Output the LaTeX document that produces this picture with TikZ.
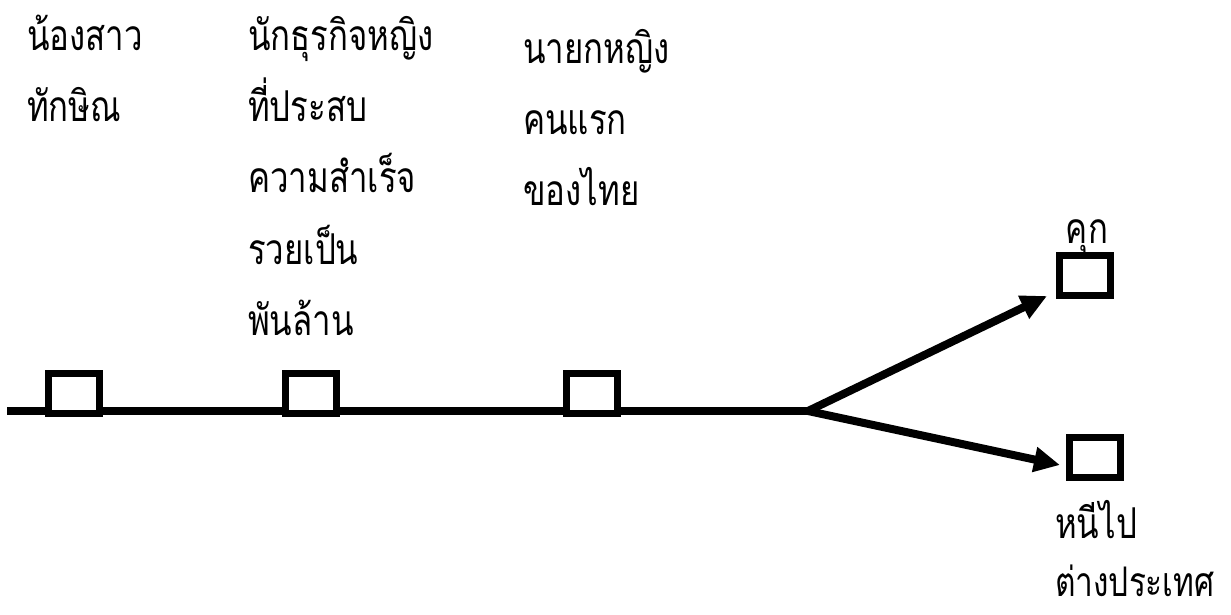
\documentclass[tikz,border=0pt]{standalone}
\usepackage{fontspec}
\usepackage{graphicx}
\newfontfamily\thaifont[Script=Thai]{Loma}
\newcommand{\tallthai}[1]{\scalebox{0.97}[1.25]{#1}}
\usetikzlibrary{arrows.meta}
\begin{document}
\begin{tikzpicture}[x=1pt,y=-1pt,
  stagebox/.style={draw=black,line width=7pt,minimum width=51pt,minimum height=40pt,inner sep=0pt,fill=white},
  lbl/.style={font=\thaifont\fontsize{34}{40}\selectfont,anchor=base west,inner sep=0pt},
  mainline/.style={line width=8pt},
  branch/.style={line width=8pt,-{Triangle[length=26pt,width=24pt]}}]
\useasboundingbox (0,0) rectangle (1231,614);
\coordinate (start) at (7,411);
\coordinate (br) at (808,411);
\coordinate (tipA) at (1047,296);
\coordinate (tipB) at (1060,465);
\draw[mainline] (start) -- (br);
\node[stagebox] (b1) at (74,393) {};
\node[stagebox] (b2) at (311,393) {};
\node[stagebox] (b3) at (592,393) {};
\node[stagebox] (bk) at (1085,275.5) {};
\node[stagebox] (bh) at (1094.5,457.5) {};
\draw[branch] (br) -- (tipA);
\draw[branch] (br) -- (tipB);
\node[lbl] (t1a) at (27,50) {\tallthai{น้องสาว}};
\node[lbl] (t1b) at (27,121) {\tallthai{ทักษิณ}};
\node[lbl] (t2a) at (248,50) {\tallthai{นักธุรกิจหญิง}};
\node[lbl] (t2b) at (248,121) {\tallthai{ที่ประสบ}};
\node[lbl] (t2c) at (248,192) {\tallthai{ความสำเร็จ}};
\node[lbl] (t2d) at (248,264) {\tallthai{รวยเป็น}};
\node[lbl] (t2e) at (248,335) {\tallthai{พันล้าน}};
\node[lbl] (t3a) at (523,63) {\tallthai{นายกหญิง}};
\node[lbl] (t3b) at (523,134) {\tallthai{คนแรก}};
\node[lbl] (t3c) at (523,205) {\tallthai{ของไทย}};
\node[lbl,anchor=base] (tk) at (1087,243) {\tallthai{คุก}};
\node[lbl] (th1) at (1055,538) {\tallthai{หนีไป}};
\node[lbl] (th2) at (1055,596) {\scalebox{0.93}[1.2]{ต่างประเทศ}};
\end{tikzpicture}
\end{document}
